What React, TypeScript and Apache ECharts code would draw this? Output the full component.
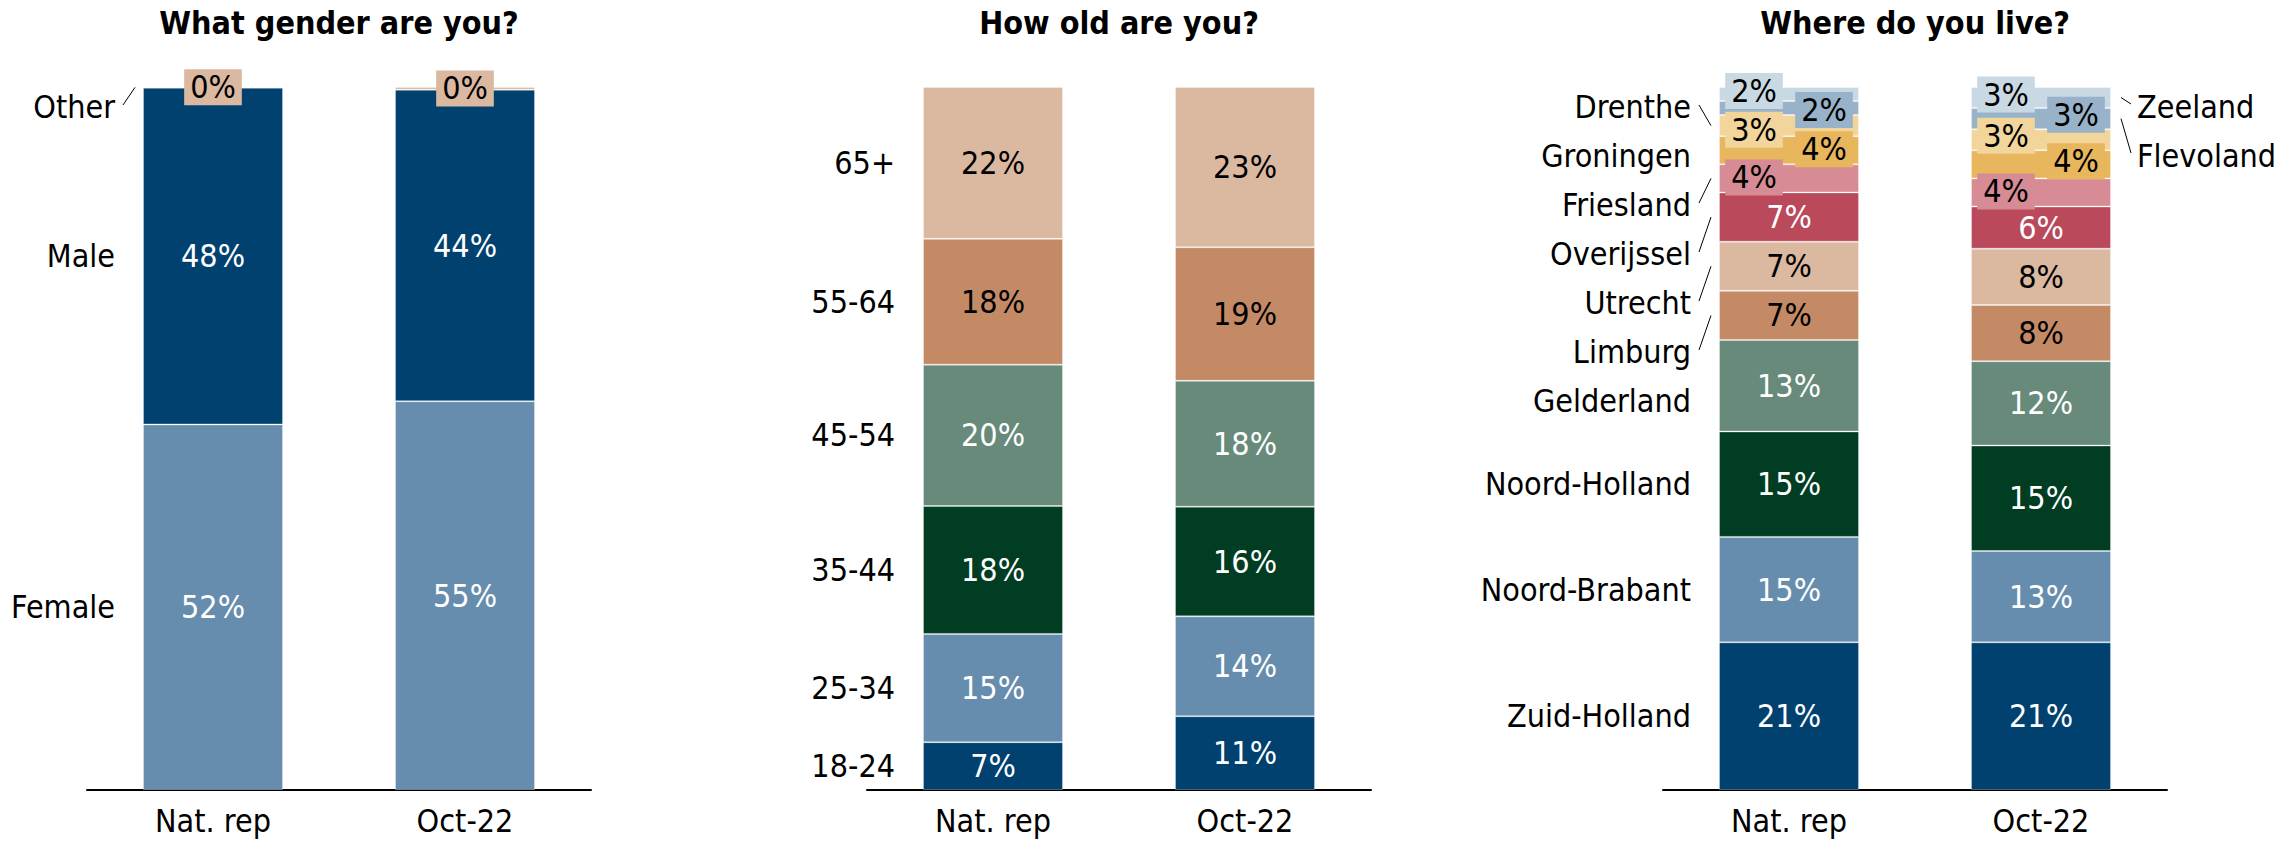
import React, { useEffect, useRef } from 'react';
import * as echarts from 'echarts';

const FONT = "'DejaVu Sans Condensed', 'Liberation Sans Narrow', 'DejaVu Sans', sans-serif";

// x categories shared by all three panels
const groups = ['Nat. rep', 'Oct-22'];

const panelTitles = ['What gender are you?', 'How old are you?', 'Where do you live?'];

// Gender, stacked bottom → top
const genderNames = ['Female', 'Male', 'Other'];
const genderNatRep = [52.0, 47.9, 0.1];
const genderOct22 = [55.3, 44.3, 0.4];

// Age, stacked bottom → top
const ageNames = ['18-24', '25-34', '35-44', '45-54', '55-64', '65+'];
const ageNatRep = [6.8, 15.4, 18.2, 20.1, 17.9, 21.6];
const ageOct22 = [10.5, 14.2, 15.6, 17.9, 19.0, 22.8];

// Province, stacked bottom → top
const regionNames = [
  'Zuid-Holland', 'Noord-Brabant', 'Noord-Holland', 'Gelderland', 'Limburg', 'Utrecht',
  'Overijssel', 'Friesland', 'Groningen', 'Drenthe', 'Flevoland', 'Zeeland',
];
const regionNatRep = [21, 15, 15, 13, 7, 7, 7, 4, 4, 3, 2, 2];
const regionOct22 = [21, 13, 15, 12, 8, 8, 6, 4, 4, 3, 3, 3];

// ---- styling ----
const C = {
  navy: '#00416f',
  steel: '#678dae',
  forest: '#003d22',
  sage: '#678a7a',
  clay: '#c48a66',
  sand: '#dbb8a0',
  berry: '#b9495b',
  rose: '#d68b95',
  amber: '#e8b65c',
  cream: '#f2d59b',
  sky: '#98b3c9',
  mist: '#c9d9e3',
};
const DARK = new Set([C.navy, C.steel, C.forest, C.sage, C.berry]);

const GRID_LEFTS = [87, 867, 1663];
const GRID_WIDTH = 504;
const GRID_TOP = 87;
const GRID_HEIGHT = 703;
const BAR_WIDTH = 140;
const FONT_SIZE = 32;
const NAME_SPACING = 49;

type Panel = {
  names: string[];
  nat: number[];
  oct: number[];
  colors: string[];
  boxed: boolean[];
  shiftX: number[];
  // small vertical nudges of the boxed value labels, per bar
  nudgeY: [number[], number[]];
  // which bar the name labels hang off, and on which side
  nameGroups: { bar: number; side: 'left' | 'right'; indices: number[] }[];
};

const panels: Panel[] = [
  {
    names: genderNames,
    nat: genderNatRep,
    oct: genderOct22,
    colors: [C.steel, C.navy, C.sand],
    boxed: [false, false, true],
    shiftX: [0, 0, 0],
    nudgeY: [[0, 0, 0], [0, 0, 0]],
    nameGroups: [{ bar: 0, side: 'left', indices: [0, 1, 2] }],
  },
  {
    names: ageNames,
    nat: ageNatRep,
    oct: ageOct22,
    colors: [C.navy, C.steel, C.forest, C.sage, C.clay, C.sand],
    boxed: [false, false, false, false, false, false],
    shiftX: [0, 0, 0, 0, 0, 0],
    nudgeY: [[0, 0, 0, 0, 0, 0], [0, 0, 0, 0, 0, 0]],
    nameGroups: [{ bar: 0, side: 'left', indices: [0, 1, 2, 3, 4, 5] }],
  },
  {
    names: regionNames,
    nat: regionNatRep,
    oct: regionOct22,
    colors: [C.navy, C.steel, C.forest, C.sage, C.clay, C.sand, C.berry, C.rose, C.amber, C.cream, C.sky, C.mist],
    boxed: [false, false, false, false, false, false, false, true, true, true, true, true],
    shiftX: [0, 0, 0, 0, 0, 0, 0, -35, 35, -35, 35, -35],
    nudgeY: [
      [0, 0, 0, 0, 0, 0, 0, -1, -1, 4, 2, -3],
      [0, 0, 0, 0, 0, 0, 0, -1, -3, -4, -4, -3],
    ],
    nameGroups: [
      { bar: 0, side: 'left', indices: [0, 1, 2, 3, 4, 5, 6, 7, 8, 9] },
      { bar: 1, side: 'right', indices: [10, 11] },
    ],
  },
];

function buildOption(): echarts.EChartsCoreOption {
  const series: any[] = [];
  panels.forEach((p, pi) => {
    p.names.forEach((name, si) => {
      const color = p.colors[si];
      const boxed = p.boxed[si];
      const values = [p.nat[si], p.oct[si]];
      series.push({
        type: 'bar',
        name,
        xAxisIndex: pi,
        yAxisIndex: pi,
        stack: 'panel' + pi,
        barWidth: BAR_WIDTH,
        data: values.map((value, bi) => ({
          value,
          label: { offset: [p.shiftX[si], p.nudgeY[bi][si]] },
        })),
        itemStyle: { color, borderColor: 'rgba(255,255,255,0.3)', borderWidth: 1 },
        emphasis: { disabled: true },
        label: {
          show: true,
          position: 'inside',
          formatter: (v: any) => Math.round(v.value) + '%',
          color: DARK.has(color) ? '#ffffff' : '#000000',
          fontSize: FONT_SIZE,
          fontFamily: FONT,
          lineHeight: 34,
          backgroundColor: boxed ? color : 'transparent',
          padding: boxed ? [1, 6] : 0,
        },
      });
    });
  });

  return {
    animation: false,
    backgroundColor: '#ffffff',
    title: panelTitles.map((text, i) => ({
      text,
      left: GRID_LEFTS[i] + GRID_WIDTH / 2,
      top: 7,
      textAlign: 'center',
      padding: 0,
      textStyle: { fontSize: 32, fontWeight: 'bold', fontFamily: FONT, color: '#000' },
    })),
    grid: GRID_LEFTS.map((left) => ({
      left,
      top: GRID_TOP,
      width: GRID_WIDTH,
      height: GRID_HEIGHT,
      containLabel: false,
    })),
    xAxis: panels.map((_, i) => ({
      type: 'category',
      gridIndex: i,
      data: groups,
      axisTick: { show: false },
      axisLine: { lineStyle: { color: '#000', width: 2 } },
      axisLabel: { color: '#000', fontSize: FONT_SIZE, fontFamily: FONT, margin: 15 },
    })),
    yAxis: panels.map((_, i) => ({
      type: 'value',
      gridIndex: i,
      min: 0,
      max: 100,
      show: false,
    })),
    series,
  };
}

// Category names beside the stacks: spread apart so they don't collide,
// with leader lines where a name sits outside its own segment.
function nameLabelGraphics(chart: echarts.ECharts) {
  const out: any[] = [];
  panels.forEach((p, pi) => {
    const finder = { gridIndex: pi };
    const topLimit = (chart.convertToPixel(finder, [0, 100]) as number[])[1] + 20;
    p.nameGroups.forEach((g) => {
      const values = g.bar === 0 ? p.nat : p.oct;
      const items = g.indices.map((si) => {
        const below = values.slice(0, si).reduce((a, b) => a + b, 0);
        const [cx, yBottom] = chart.convertToPixel(finder, [g.bar, below]) as number[];
        const yTop = (chart.convertToPixel(finder, [g.bar, below + values[si]]) as number[])[1];
        return { si, cx, top: yTop, bottom: yBottom, center: (yTop + yBottom) / 2, y: 0 };
      });
      // bottom-up: keep each name at least NAME_SPACING above the one below
      items.forEach((it, k) => {
        it.y = k === 0 ? it.center : Math.min(it.center, items[k - 1].y - NAME_SPACING);
      });
      // top-down: push back inside the plot
      for (let k = items.length - 1; k >= 0; k--) {
        const lim = k === items.length - 1 ? topLimit : items[k + 1].y + NAME_SPACING;
        items[k].y = Math.max(items[k].y, lim);
      }
      items.forEach((it) => {
        const barLeft = it.cx - BAR_WIDTH / 2;
        const barRight = it.cx + BAR_WIDTH / 2;
        const left = g.side === 'left';
        out.push({
          type: 'text',
          x: left ? barLeft - 28 : barRight + 26,
          y: it.y,
          silent: true,
          style: {
            text: p.names[it.si],
            fill: '#000',
            fontSize: FONT_SIZE,
            fontFamily: FONT,
            align: left ? 'right' : 'left',
            textAlign: left ? 'right' : 'left',
            verticalAlign: 'middle',
            textVerticalAlign: 'middle',
          },
        });
        const outside = it.y < it.top + 5 || it.y > it.bottom - 5;
        if (outside) {
          out.push({
            type: 'line',
            silent: true,
            shape: left
              ? { x1: barLeft - 20, y1: it.y - 2, x2: barLeft - 8, y2: it.center }
              : { x1: barRight + 10, y1: it.center, x2: barRight + 20, y2: it.y - 3 },
            style: { stroke: '#000', lineWidth: 1 },
          });
        }
      });
    });
  });
  return out;
}

export default function App() {
  const ref = useRef<HTMLDivElement>(null);

  useEffect(() => {
    document.body.style.margin = '0';
    if (!ref.current) return;
    const chart = echarts.init(ref.current, null, { renderer: 'svg' });
    chart.setOption(buildOption());
    chart.setOption({ graphic: nameLabelGraphics(chart) });
    return () => chart.dispose();
  }, []);

  return <div ref={ref} style={{ width: 2295, height: 842 }} />;
}
